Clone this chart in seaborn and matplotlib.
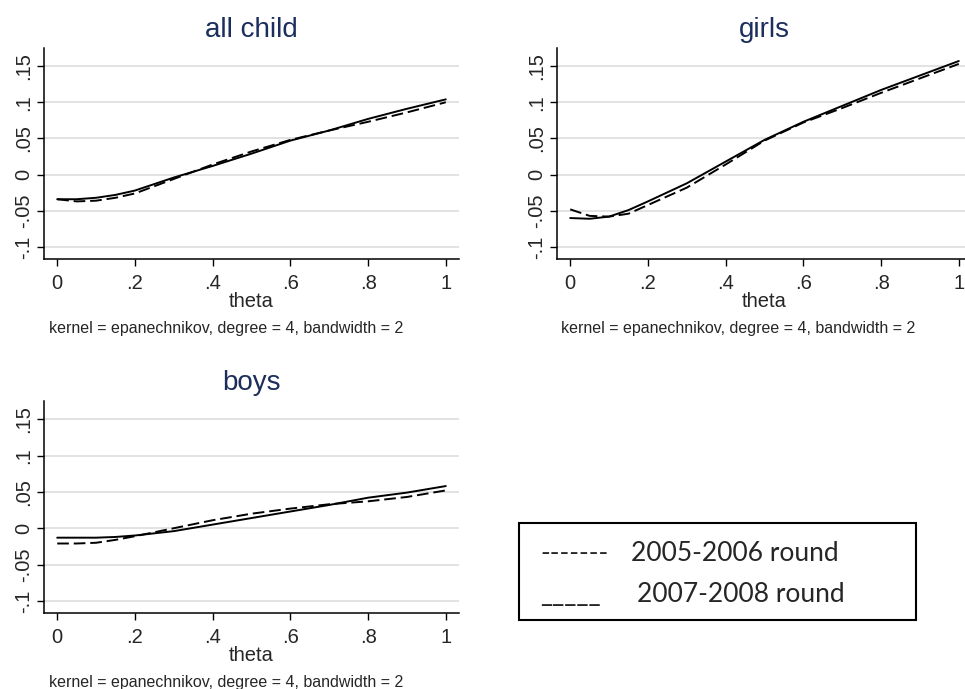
"""
Local polynomial smooths of the outcome against theta for all children,
girls and boys, comparing the 2005-2006 and 2007-2008 survey rounds.
"""

import matplotlib
matplotlib.use('Agg')
import matplotlib.pyplot as plt
import matplotlib.patches as mpatches
import pandas as pd
import seaborn as sns

sns.set_style('white')
plt.rcParams['font.family'] = ['Liberation Sans', 'DejaVu Sans']

# values
theta = [0, 0.05, 0.1, 0.15, 0.2, 0.3, 0.4, 0.5, 0.6, 0.7, 0.8, 0.9, 1.0]

all_0506 = [-0.034, -0.037, -0.036, -0.032, -0.026, -0.006, 0.014, 0.032,
            0.048, 0.061, 0.073, 0.086, 0.100]
all_0708 = [-0.034, -0.034, -0.032, -0.028, -0.022, -0.004, 0.012, 0.029,
            0.047, 0.061, 0.077, 0.091, 0.104]

girls_0506 = [-0.048, -0.057, -0.058, -0.054, -0.042, -0.018, 0.014, 0.047,
              0.072, 0.092, 0.113, 0.133, 0.153]
girls_0708 = [-0.060, -0.061, -0.058, -0.049, -0.037, -0.012, 0.018, 0.048,
              0.073, 0.095, 0.117, 0.137, 0.157]

boys_0506 = [-0.021, -0.021, -0.020, -0.016, -0.011, 0.000, 0.011, 0.020,
             0.027, 0.033, 0.037, 0.043, 0.052]
boys_0708 = [-0.013, -0.013, -0.013, -0.012, -0.010, -0.004, 0.005, 0.014,
             0.023, 0.032, 0.042, 0.049, 0.058]

rounds = ['2005-2006 round', '2007-2008 round']
x_ticks = [0, 0.2, 0.4, 0.6, 0.8, 1.0]
x_labels = ['0', '.2', '.4', '.6', '.8', '1']
y_ticks = [-0.1, -0.05, 0, 0.05, 0.1, 0.15]
y_labels = ['-.1', '-.05', '0', '.05', '.1', '.15']

note = 'kernel = epanechnikov, degree = 4, bandwidth = 2'
title_color = '#1c2e5c'


def make_frame(first, second):
    """long-form table of one panel, one row per point"""
    df = pd.DataFrame({'theta': theta * 2,
                       'value': first + second,
                       'round': [rounds[0]] * len(theta) +
                                [rounds[1]] * len(theta)})
    return df


def draw_panel(ax, df, title):
    sns.lineplot(data=df, x='theta', y='value', style='round',
                 dashes={rounds[0]: (6, 2.5), rounds[1]: ''},
                 color='black', linewidth=1.4, legend=False, ax=ax)
    ax.set_xlim(-0.034, 1.034)
    ax.set_ylim(-0.1166, 0.175)
    ax.set_xticks(x_ticks)
    ax.set_xticklabels(x_labels)
    ax.set_yticks(y_ticks)
    ax.set_yticklabels(y_labels, rotation=90, va='center')
    ax.tick_params(axis='both', direction='out', length=5, width=1,
                   color='black', labelsize=14.5, left=True, bottom=True)
    ax.tick_params(axis='x', pad=6)
    ax.tick_params(axis='y', pad=3)
    ax.grid(axis='y', color='#e2e2e2', linewidth=1.4)
    ax.grid(axis='x', visible=False)
    ax.set_axisbelow(True)
    for side in ['top', 'right']:
        ax.spines[side].set_visible(False)
    for side in ['left', 'bottom']:
        ax.spines[side].set_color('black')
        ax.spines[side].set_linewidth(1.1)
    ax.set_xlabel('theta', fontsize=14.5, labelpad=-1)
    ax.set_ylabel('')
    ax.set_title(title, fontsize=20, color=title_color, pad=8)


def main():
    fig = plt.figure(figsize=(9.65, 6.89), dpi=100)
    W, H = 965, 689

    ax1 = fig.add_axes([44 / W, 1 - 259 / H, 415 / W, 211 / H])
    ax2 = fig.add_axes([557 / W, 1 - 259 / H, 415 / W, 211 / H])
    ax3 = fig.add_axes([44 / W, 1 - 613 / H, 415 / W, 212 / H])

    draw_panel(ax1, make_frame(all_0506, all_0708), 'all child')
    draw_panel(ax2, make_frame(girls_0506, girls_0708), 'girls')
    draw_panel(ax3, make_frame(boys_0506, boys_0708), 'boys')

    fig.text(49 / W, 1 - 329 / H, note, fontsize=11.5, va='center')
    fig.text(561 / W, 1 - 329 / H, note, fontsize=11.5, va='center')
    fig.text(49 / W, 1 - 682 / H, note, fontsize=11.5, va='center')

    # hand made key box in the empty corner
    box = mpatches.Rectangle((519 / W, 1 - 620 / H), 397 / W, 97 / H,
                             transform=fig.transFigure, fill=False,
                             edgecolor='black', linewidth=1.5)
    fig.patches.append(box)
    key_font = ['Lato', 'DejaVu Sans']
    fig.text(540 / W, 1 - 561 / H, '-------', fontsize=19,
             family=key_font, va='baseline')
    fig.text(631 / W, 1 - 561 / H, rounds[0], fontsize=19,
             family=key_font, va='baseline')
    fig.text(540 / W, 1 - 602 / H, '_____', fontsize=19,
             family=key_font, va='baseline')
    fig.text(637 / W, 1 - 602 / H, rounds[1], fontsize=19,
             family=key_font, va='baseline')

    fig.savefig('out.png', dpi=100)


main()
